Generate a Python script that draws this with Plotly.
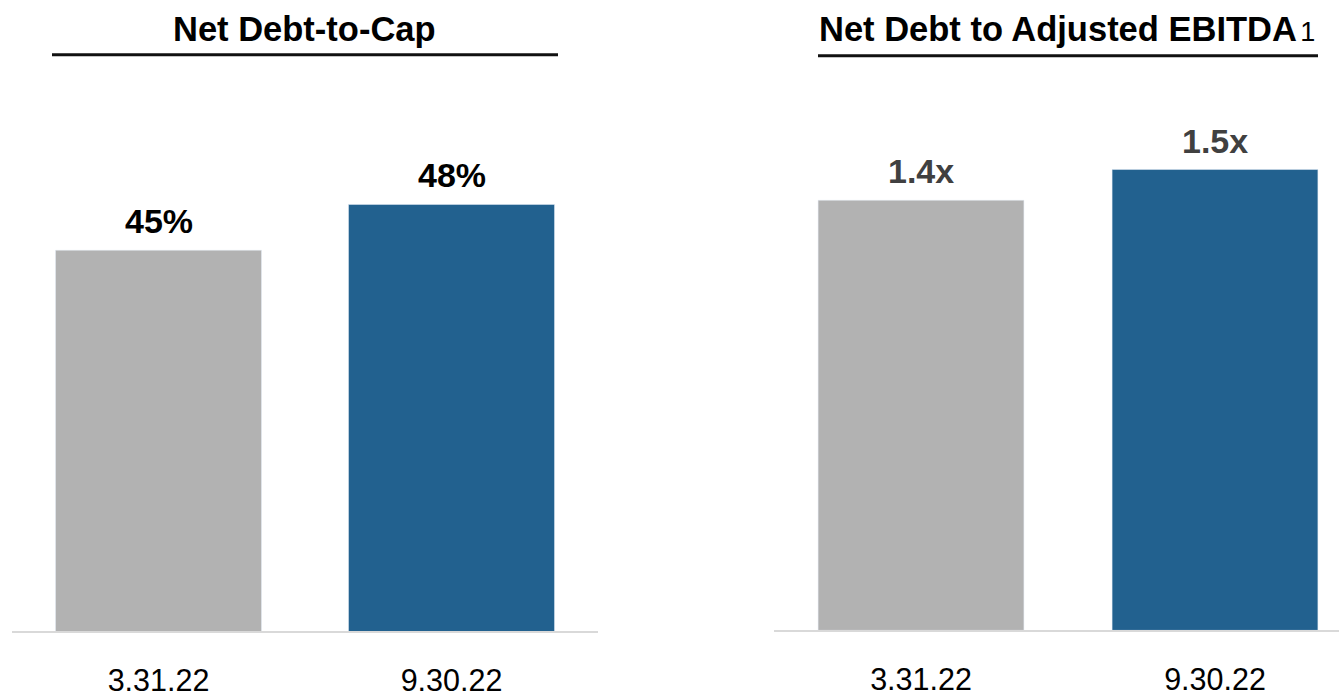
import plotly.graph_objects as go

categories = ["3.31.22", "9.30.22"]
debt_to_cap = [45, 48]
debt_to_cap_labels = ["45%", "48%"]
debt_to_ebitda = [1.4, 1.5]
debt_to_ebitda_labels = ["1.4x", "1.5x"]
bar_colors = ["#B2B2B2", "#22618F"]
title_left = "Net Debt-to-Cap"
title_right = "Net Debt to Adjusted EBITDA"
title_right_note = "1"

W, H = 1339, 697
FONT = "Liberation Sans, Arial, sans-serif"

def fx(px):
    return px / W

def fy(py):
    return (H - py) / H

fig = go.Figure()

fig.add_trace(go.Bar(x=categories, y=debt_to_cap, marker_color=bar_colors,
                     width=0.703, xaxis="x", yaxis="y", showlegend=False,
                     hoverinfo="x+y"))
fig.add_trace(go.Bar(x=categories, y=debt_to_ebitda, marker_color=bar_colors,
                     width=0.70, xaxis="x2", yaxis="y2", showlegend=False,
                     hoverinfo="x+y"))

# Left panel: axis 12-598 px, baseline 635 px, range starts at 20
left_base, left_top = 635, 100
k_left = 15.333
fig.update_layout(
    xaxis=dict(domain=[fx(12), fx(598)], range=[-0.5, 1.5], type="category",
               showline=True, linecolor="#D9D9D9", linewidth=2, showgrid=False,
               ticks="", tickfont=dict(family=FONT, size=30.5, color="#000000"),
               ticklabelstandoff=21, anchor="y"),
    yaxis=dict(domain=[fy(left_base), fy(left_top)],
               range=[20, 20 + (left_base - left_top) / k_left],
               visible=False, showgrid=False, anchor="x"),
)

right_base, right_top = 634, 100
k_right = 309.0
fig.update_layout(
    xaxis2=dict(domain=[fx(774), 1.0], range=[-0.5, -0.5 + (W - 774) / 294.0],
                type="category", showline=True, linecolor="#D9D9D9", linewidth=2,
                showgrid=False, ticks="",
                tickfont=dict(family=FONT, size=30.5, color="#000000"),
                ticklabelstandoff=21, anchor="y2"),
    yaxis2=dict(domain=[fy(right_base), fy(right_top)],
                range=[0, (right_base - right_top) / k_right],
                visible=False, showgrid=False, anchor="x2"),
)

annotations = []
for c, v, t in zip(categories, debt_to_cap, debt_to_cap_labels):
    annotations.append(dict(x=c, y=v, xref="x", yref="y", text="<b>%s</b>" % t,
                            showarrow=False, yanchor="bottom", yshift=8,
                            font=dict(family=FONT, size=34, color="#000000")))
for c, v, t in zip(categories, debt_to_ebitda, debt_to_ebitda_labels):
    annotations.append(dict(x=c, y=v, xref="x2", yref="y2", text="<b>%s</b>" % t,
                            showarrow=False, yanchor="bottom", yshift=8,
                            font=dict(family=FONT, size=34, color="#404040")))

annotations.append(dict(x=fx(304), y=fy(29), xref="paper", yref="paper",
                        text="<b>%s</b>" % title_left, showarrow=False,
                        xanchor="center", yanchor="middle",
                        font=dict(family=FONT, size=34.5, color="#000000")))
annotations.append(dict(x=fx(1067), y=fy(29), xref="paper", yref="paper",
                        text="<b>%s</b><span style=\"font-size:12px\"> </span>"
                             "<span style=\"font-size:27px\">%s</span>"
                             % (title_right, title_right_note),
                        showarrow=False, xanchor="center", yanchor="middle",
                        font=dict(family=FONT, size=34.5, color="#000000")))

shapes = [
    dict(type="line", xref="paper", yref="paper", x0=fx(52), x1=fx(558),
         y0=fy(55), y1=fy(55), line=dict(color="#111111", width=3)),
    dict(type="line", xref="paper", yref="paper", x0=fx(818), x1=fx(1318),
         y0=fy(56), y1=fy(56), line=dict(color="#111111", width=3)),
]

fig.update_layout(
    width=W, height=H,
    margin=dict(l=0, r=0, t=0, b=0),
    paper_bgcolor="#FFFFFF", plot_bgcolor="#FFFFFF",
    annotations=annotations, shapes=shapes,
    bargap=0.3,
)

fig.write_html("out.html",
               config={"displayModeBar": False},
               post_script="document.body.style.margin='0';"
                           "document.body.style.overflow='hidden';")
